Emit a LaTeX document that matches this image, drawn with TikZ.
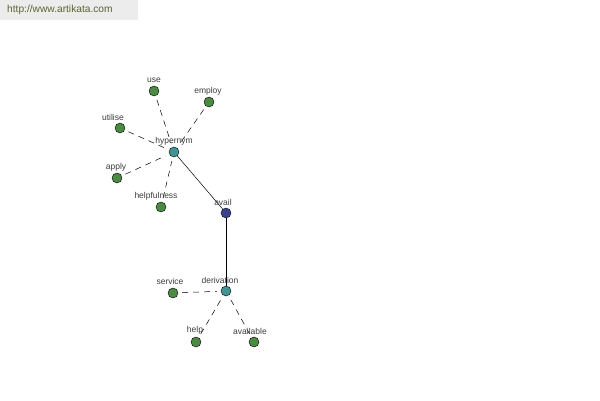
\documentclass[tikz,border=0pt]{standalone}
\usepackage{fontspec}
\setmainfont{Liberation Sans}
\usepackage{xcolor}
\usepackage{tikz}
\usetikzlibrary{shapes,arrows,positioning}

\definecolor{leafgreen}{RGB}{74,138,66}
\definecolor{hubteal}{RGB}{66,148,148}
\definecolor{rootblue}{RGB}{58,66,146}
\definecolor{labelgrey}{RGB}{60,60,60}
\definecolor{urlgreen}{RGB}{90,100,50}
\definecolor{bargrey}{RGB}{236,236,236}

\tikzset{
    word/.style={
        circle,
        draw=black,
        line width=0.4pt,
        minimum size=10pt,
        inner sep=0pt
    },
    leaf/.style={word, fill=leafgreen},
    hub/.style={word, fill=hubteal},
    root/.style={word, fill=rootblue},
    wordlabel/.style={
        font=\fontsize{8.5}{9}\selectfont,
        text=labelgrey,
        inner sep=0pt
    },
    rel/.style={
        line width=0.5pt,
        dash pattern=on 6pt off 5pt,
        shorten <=4pt,
        shorten >=4pt
    },
    link/.style={
        line width=0.5pt
    }
}

\begin{document}
\begin{tikzpicture}[x=1pt,y=-1pt]
                \useasboundingbox (0,0) rectangle (600,400);

                \fill[bargrey] (0,0) rectangle (138,20);
                \node[anchor=west, text=urlgreen, font=\fontsize{10.2}{11}\selectfont, inner sep=0pt] (url) at (7,10) {http://www.artikata.com};

                % words
                \node[hub] (hypernym) at (174,152) {};
                \node[root] (avail) at (226,213) {};
                \node[hub] (derivation) at (226,291) {};

                \node[leaf] (use) at (154,91) {};
                \node[leaf] (employ) at (209,102) {};
                \node[leaf] (utilise) at (120,128) {};
                \node[leaf] (apply) at (117,178) {};
                \node[leaf] (helpfulness) at (161,207) {};
                \node[leaf] (service) at (173,293) {};
                \node[leaf] (help) at (196,342) {};
                \node[leaf] (available) at (254,342) {};

                % connectors
                \draw[link] (hypernym) -- (avail);
                \draw[link] (avail) -- (derivation);

                \draw[rel] (use) -- (hypernym);
                \draw[rel] (employ) -- (hypernym);
                \draw[rel] (utilise) -- (hypernym);
                \draw[rel] (apply) -- (hypernym);
                \draw[rel] (helpfulness) -- (hypernym);
                \draw[rel] (service) -- (derivation);
                \draw[rel] (help) -- (derivation);
                \draw[rel] (available) -- (derivation);

                % labels
                \node[wordlabel] (hypernymlabel) at (174,141) {hypernym};
                \node[wordlabel] (availlabel) at (223,202) {avail};
                \node[wordlabel] (derivationlabel) at (220,280) {derivation};
                \node[wordlabel] (uselabel) at (154,80) {use};
                \node[wordlabel] (employlabel) at (208,91) {employ};
                \node[wordlabel] (utiliselabel) at (113,117) {utilise};
                \node[wordlabel] (applylabel) at (116,167) {apply};
                \node[wordlabel] (helpfulnesslabel) at (156,196) {helpfulness};
                \node[wordlabel] (servicelabel) at (170,281) {service};
                \node[wordlabel] (helplabel) at (195,330) {help};
                \node[wordlabel] (availablelabel) at (250,331) {available};

\end{tikzpicture}
\end{document}
